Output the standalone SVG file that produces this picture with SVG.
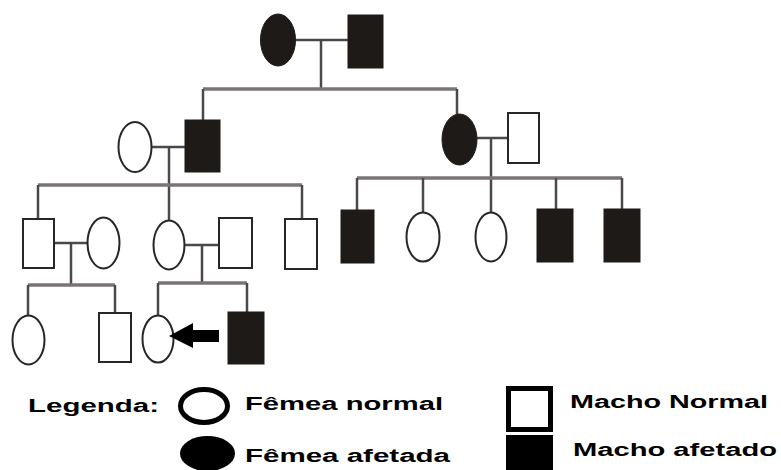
<svg xmlns="http://www.w3.org/2000/svg" width="781" height="470" viewBox="0 0 781 470">
<style>
.aff{fill:#1e1a18;stroke:#1e1a18;stroke-width:1}
.nor{fill:#ffffff;stroke:#2a2626;stroke-width:2}
.ln{stroke:#4d4848;stroke-width:2.5;fill:none}
.sib{stroke:#7a7575;stroke-width:3.5;fill:none}
.lg{font-family:"Liberation Sans",Arial,sans-serif;font-weight:bold;font-size:18px;fill:#000}
</style>
<rect width="781" height="470" fill="#ffffff"/>
<g id="connectors">
<line class="ln" x1="296" y1="40" x2="348" y2="40"/>
<line class="ln" x1="321" y1="40" x2="321" y2="89"/>
<line class="sib" x1="203" y1="89" x2="457" y2="89"/>
<line class="ln" x1="203" y1="89" x2="203" y2="120"/>
<line class="ln" x1="457" y1="89" x2="457" y2="114"/>
<line class="ln" x1="152" y1="147" x2="185" y2="147"/>
<line class="ln" x1="169" y1="147" x2="169" y2="220"/>
<line class="sib" x1="38" y1="185" x2="302" y2="185"/>
<line class="ln" x1="38" y1="185" x2="38" y2="218"/>
<line class="ln" x1="302" y1="185" x2="302" y2="218"/>
<line class="ln" x1="477" y1="138" x2="507" y2="138"/>
<line class="ln" x1="491" y1="138" x2="491" y2="212"/>
<line class="sib" x1="357" y1="178" x2="622" y2="178"/>
<line class="ln" x1="357" y1="178" x2="357" y2="210"/>
<line class="ln" x1="423" y1="178" x2="423" y2="212"/>
<line class="ln" x1="556" y1="178" x2="556" y2="209"/>
<line class="ln" x1="622" y1="178" x2="622" y2="209"/>
<line class="ln" x1="55" y1="243" x2="87" y2="243"/>
<line class="ln" x1="71" y1="243" x2="71" y2="285"/>
<line class="sib" x1="28" y1="285" x2="115" y2="285"/>
<line class="ln" x1="28" y1="285" x2="28" y2="315"/>
<line class="ln" x1="115" y1="285" x2="115" y2="312"/>
<line class="ln" x1="185" y1="245" x2="218" y2="245"/>
<line class="ln" x1="202" y1="245" x2="202" y2="283"/>
<line class="sib" x1="158" y1="283" x2="247" y2="283"/>
<line class="ln" x1="158" y1="283" x2="158" y2="315"/>
<line class="ln" x1="247" y1="283" x2="247" y2="312"/>
</g>
<g id="I1"><ellipse class="aff" cx="278" cy="40" rx="17.5" ry="26"/></g>
<g id="I2"><rect class="aff" x="348" y="15" width="35" height="53"/></g>
<g id="II1"><ellipse class="nor" cx="135" cy="147" rx="16.5" ry="25"/></g>
<g id="II2"><rect class="aff" x="185" y="120" width="35" height="52"/></g>
<g id="II3"><ellipse class="aff" cx="459.5" cy="139.5" rx="17.5" ry="25.5"/></g>
<g id="II4"><rect class="nor" x="508" y="113" width="31" height="50"/></g>
<g id="III1"><rect class="nor" x="23" y="219" width="31" height="49"/></g>
<g id="III2"><ellipse class="nor" cx="103.5" cy="243" rx="16" ry="25.5"/></g>
<g id="III3"><ellipse class="nor" cx="169" cy="245" rx="15.5" ry="24.5"/></g>
<g id="III4"><rect class="nor" x="219" y="218" width="33" height="50"/></g>
<g id="III5"><rect class="nor" x="285" y="219" width="32" height="50"/></g>
<g id="III6"><rect class="aff" x="341" y="210" width="33" height="53"/></g>
<g id="III7"><ellipse class="nor" cx="423" cy="237" rx="16.5" ry="24.5"/></g>
<g id="III8"><ellipse class="nor" cx="491" cy="237" rx="15.5" ry="24.5"/></g>
<g id="III9"><rect class="aff" x="537" y="209" width="36" height="53"/></g>
<g id="III10"><rect class="aff" x="604" y="209" width="36" height="53"/></g>
<g id="IV1"><ellipse class="nor" cx="28.5" cy="340" rx="16" ry="24.5"/></g>
<g id="IV2"><rect class="nor" x="99" y="313" width="32" height="49"/></g>
<g id="IV3"><ellipse class="nor" cx="158" cy="339" rx="15.5" ry="23.5"/></g>
<g id="IV4"><rect class="aff" x="228" y="312" width="36" height="52"/></g>
<g id="proband-arrow"><polygon points="169,336 193,323 193,330 219,330 219,342 193,342 193,348" fill="#000"/></g>
<g id="legend">
<text class="lg" x="28" y="412" font-size="19" textLength="131" lengthAdjust="spacingAndGlyphs">Legenda:</text>
<ellipse cx="204" cy="406" rx="23.5" ry="16.5" fill="#fff" stroke="#000" stroke-width="5"/>
<text class="lg" x="245" y="410" textLength="198" lengthAdjust="spacingAndGlyphs">Fêmea normal</text>
<ellipse cx="207.5" cy="453.5" rx="27.5" ry="17.5" fill="#000"/>
<text class="lg" x="245" y="462" textLength="205" lengthAdjust="spacingAndGlyphs">Fêmea afetada</text>
<rect x="508.5" y="388.5" width="42" height="41" fill="#fff" stroke="#000" stroke-width="5"/>
<text class="lg" x="570" y="408" textLength="198" lengthAdjust="spacingAndGlyphs">Macho Normal</text>
<rect x="506" y="435" width="47" height="35" fill="#000"/>
<text class="lg" x="573" y="456" textLength="204" lengthAdjust="spacingAndGlyphs">Macho afetado</text>
</g>
</svg>
